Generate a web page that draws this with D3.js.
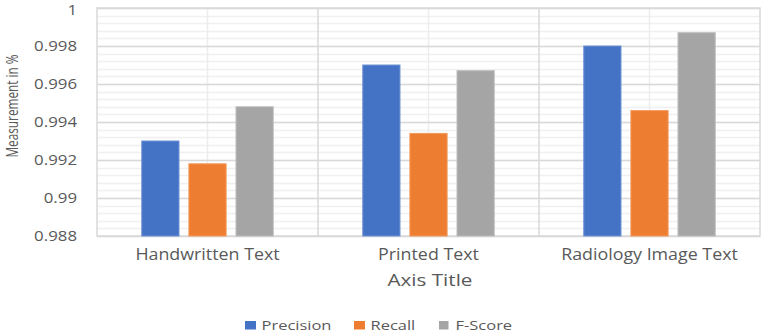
<!DOCTYPE html>
<html>
<head>
<meta charset="utf-8">
<script src="https://cdn.jsdelivr.net/npm/d3@7"></script>
<style>
  body { margin: 0; background: #fff; }
  text { font-family: "Open Sans", "DejaVu Sans", sans-serif; fill: #595959; }
</style>
</head>
<body>
<svg class="chart"></svg>
<script>
const width = 765;
const height = 333;
const margin = {top: 8, right: 5, bottom: 97, left: 97};

const categories = ['Handwritten Text', 'Printed Text', 'Radiology Image Text'];
const seriesNames = ['Precision', 'Recall', 'F-Score'];
const precision = [0.993, 0.997, 0.998];
const recall = [0.9918, 0.9934, 0.9946];
const fScore = [0.9948, 0.9967, 0.9987];
const yTicks = [0.988, 0.99, 0.992, 0.994, 0.996, 0.998, 1];
const colors = ['#4472c4', '#ed7d31', '#a5a5a5'];
const edges = ['#6f93d6', '#f49a5e', '#bdbdbd'];

const series = [precision, recall, fScore];

// the source picture is a bit stretched sideways, so widen the texts
function stretch(sel, factor) {
    sel.each(function() {
        const w = this.getComputedTextLength();
        d3.select(this)
            .attr('textLength', w * factor)
            .attr('lengthAdjust', 'spacingAndGlyphs');
    });
}

const svg = d3.select('svg.chart')
    .attr('width', width)
    .attr('height', height);

const plotW = width - margin.left - margin.right;
const plotH = height - margin.top - margin.bottom;

const g = svg.append('g')
    .attr('transform', `translate(${margin.left},${margin.top})`);

const x = d3.scaleBand()
    .domain(categories)
    .range([0, plotW]);

const x1 = d3.scaleBand()
    .domain(seriesNames)
    .range([0, x.bandwidth()])
    .paddingInner(0.21)
    .paddingOuter(0.95);

const y = d3.scaleLinear()
    .domain([0.988, 1])
    .range([plotH, 0]);

// minor horizontal gridlines
g.append('g')
    .selectAll('line')
    .data(d3.range(0, 31).map(i => 0.988 + i * 0.0004))
    .join('line')
    .attr('x1', 0)
    .attr('x2', plotW)
    .attr('y1', d => Math.round(y(d)) + 0.5)
    .attr('y2', d => Math.round(y(d)) + 0.5)
    .attr('stroke', '#f0f0f0')
    .attr('stroke-width', 1.5);

// minor vertical gridlines at category centers
g.append('g')
    .selectAll('line')
    .data(categories)
    .join('line')
    .attr('x1', d => x(d) + x.bandwidth() / 2)
    .attr('x2', d => x(d) + x.bandwidth() / 2)
    .attr('y1', 0)
    .attr('y2', plotH)
    .attr('stroke', '#ececec')
    .attr('stroke-width', 1.5);

// major gridlines
g.append('g')
    .call(d3.axisLeft(y).tickValues(yTicks).tickSize(-plotW).tickFormat(''))
    .call(a => a.select('.domain').remove())
    .call(a => a.selectAll('line').attr('stroke', '#d9d9d9').attr('stroke-width', 1.5));

g.append('g')
    .selectAll('line')
    .data(categories.slice(1))
    .join('line')
    .attr('x1', d => x(d))
    .attr('x2', d => x(d))
    .attr('y1', 0)
    .attr('y2', plotH)
    .attr('stroke', '#d9d9d9')
    .attr('stroke-width', 1.5);

// plot border
g.append('rect')
    .attr('width', plotW)
    .attr('height', plotH)
    .attr('fill', 'none')
    .attr('stroke', '#d9d9d9')
    .attr('stroke-width', 1.5);

// bars
const groups = g.append('g')
    .selectAll('g')
    .data(categories)
    .join('g')
    .attr('transform', d => `translate(${x(d)},0)`);

groups.selectAll('rect')
    .data((d, i) => seriesNames.map((s, j) => ({s, j, v: series[j][i]})))
    .join('rect')
    .attr('x', d => x1(d.s))
    .attr('width', x1.bandwidth())
    .attr('y', d => y(d.v))
    .attr('height', d => plotH - y(d.v))
    .attr('fill', d => colors[d.j])
    .attr('stroke', d => edges[d.j])
    .attr('stroke-width', 1);

// y tick labels
g.append('g')
    .call(d3.axisLeft(y).tickValues(yTicks).tickSize(0).tickPadding(20).tickFormat(d3.format('')))
    .call(a => a.select('.domain').remove())
    .call(a => a.selectAll('text')
        .style('font-size', '14.5px')
        .style('font-family', '"Open Sans", sans-serif')
        .attr('fill', '#595959')
        .call(stretch, 1.16));

// keep the top "1" inside the picture
g.selectAll('.tick')
    .filter(d => d === 1)
    .select('text')
    .attr('dy', '0.45em');

// x tick labels
g.append('g')
    .attr('transform', `translate(0,${plotH})`)
    .call(d3.axisBottom(x).tickSize(0).tickPadding(13))
    .call(a => a.select('.domain').remove())
    .call(a => a.selectAll('text')
        .style('font-size', '15.5px')
        .style('font-family', '"Open Sans", sans-serif')
        .attr('fill', '#595959')
        .call(stretch, 1.15));

// axis titles
svg.append('text')
    .attr('x', 430)
    .attr('y', 286)
    .attr('text-anchor', 'middle')
    .style('font-size', '16.5px')
    .text('Axis Title')
    .call(stretch, 1.25);

svg.append('text')
    .attr('transform', `translate(17.5,106)rotate(-90)`)
    .attr('text-anchor', 'middle')
    .style('font-size', '16px')
    .attr('textLength', 103)
    .attr('lengthAdjust', 'spacingAndGlyphs')
    .text('Measurement in %');

// legend
const legendX = [245, 354, 439];
const legend = svg.append('g')
    .attr('transform', 'translate(0,325)');

const items = legend.selectAll('g')
    .data(seriesNames)
    .join('g')
    .attr('transform', (d, i) => `translate(${legendX[i]},0)`);

items.append('rect')
    .attr('x', 0)
    .attr('y', -4)
    .attr('width', (d, i) => i === 2 ? 9.5 : 11)
    .attr('height', 8.5)
    .attr('fill', (d, i) => colors[i]);

items.append('text')
    .attr('x', 16.5)
    .attr('y', 4.5)
    .style('font-size', '13.5px')
    .text(d => d)
    .call(stretch, 1.22);
</script>
</body>
</html>
